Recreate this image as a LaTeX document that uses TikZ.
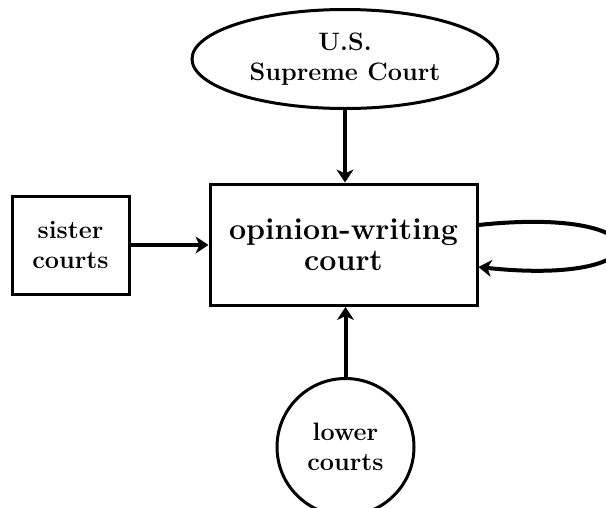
\documentclass[tikz,border=0pt]{standalone}
\usetikzlibrary{shapes.geometric,arrows.meta}
\begin{document}
\begin{tikzpicture}[x=1pt,y=-1pt,
  shp/.style={draw,line width=3pt,inner sep=0pt,align=center,font=\fontsize{25.2}{30}\selectfont\bfseries},
  conn/.style={line width=4pt,-{Stealth[length=13pt,width=17pt,inset=4pt]}}]
\useasboundingbox (0,0) rectangle (606,507);
\node[shp,ellipse,minimum width=306pt,minimum height=99pt] (sup) at (345,59) {U.S.\\Supreme Court};
\node[shp,rectangle,minimum width=267pt,minimum height=121.5pt,font=\fontsize{30.4}{30.5}\selectfont\bfseries] (main) at (343.5,244.75) {opinion-writing\\court};
\node[shp,rectangle,minimum width=117pt,minimum height=98pt] (sis) at (70.5,245) {sister\\courts};
\node[shp,circle,minimum size=137pt] (low) at (345.5,447) {lower\\courts};
\draw[conn] (sup.south) -- (sup.south |- main.north);
\draw[conn] (sis.east) -- (sis.east -| main.west);
\draw[conn] (low.north) -- (low.north |- main.south);
\draw[conn] ([yshift=19.75pt]main.east) .. controls (665,205) and (665,287) .. ([yshift=-22.25pt]main.east);
\end{tikzpicture}
\end{document}
